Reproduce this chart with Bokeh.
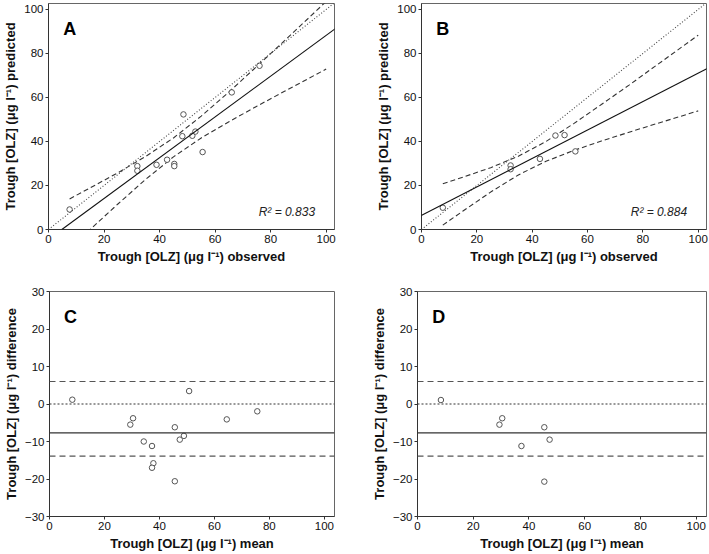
from bokeh.plotting import figure
from bokeh.layouts import column, row
from bokeh.models import Range1d, Slope, Span, Label, FixedTicker
from bokeh.embed import file_html
from bokeh.resources import INLINE

# ---------------- data ----------------
# Panel A: observed vs predicted (all subjects)
obs_a = [7.6, 32.0, 32.0, 38.9, 42.7, 45.3, 45.3, 48.2, 48.6, 51.8, 52.9, 55.5, 66.0, 76.0]
pred_a = [9.1, 28.8, 26.7, 29.4, 31.7, 29.8, 28.8, 42.4, 52.3, 42.6, 44.5, 35.2, 62.3, 74.4]
fit_a = (0.927, -4.45)          # slope, intercept of regression line
r2_a = "0.833"
ci_x_a = [7.6, 15, 25, 35, 45, 55, 65, 75, 85, 100]
ci_up_a = [13.9, 18.9, 25.8, 33.2, 41.6, 51.5, 62.5, 74.1, 85.8, 103.6]
ci_lo_a = [-8.7, 0.0, 11.6, 22.8, 33.0, 41.6, 49.0, 56.0, 62.8, 72.9]

# Panel B: observed vs predicted (subset)
obs_b = [7.7, 32.2, 32.2, 42.8, 48.4, 51.7, 55.6]
pred_b = [9.9, 29.1, 27.4, 32.1, 42.7, 42.9, 35.5]
fit_b = (0.647, 6.4)
r2_b = "0.884"
ci_x_b = [7.7, 15, 25, 35, 45, 55, 65, 75, 85, 100]
ci_up_b = [20.8, 23.8, 28.1, 33.3, 40.0, 48.1, 56.8, 65.6, 74.7, 88.3]
ci_lo_b = [2.0, 8.4, 17.0, 24.8, 31.0, 35.9, 40.2, 44.2, 48.1, 53.9]

# Panel C: Bland-Altman (all subjects)
mean_c = [8.3, 29.4, 30.4, 34.3, 37.3, 37.8, 37.3, 45.6, 45.6, 47.4, 48.9, 50.8, 64.5, 75.6]
diff_c = [1.15, -5.5, -3.8, -10.0, -11.2, -15.8, -17.0, -6.2, -20.6, -9.5, -8.5, 3.45, -4.1, -1.95]
bias_c, upper_c, lower_c = -7.7, 6.0, -13.9

# Panel D: Bland-Altman (subset)
mean_d = [8.4, 29.4, 30.4, 37.3, 45.5, 45.5, 47.4]
diff_d = [1.06, -5.5, -3.8, -11.2, -6.2, -20.7, -9.5]
bias_d, upper_d, lower_d = -7.7, 6.0, -13.9

x_ticks = [0, 20, 40, 60, 80, 100]
y_ticks_ab = [0, 20, 40, 60, 80, 100]
y_ticks_cd = [-30, -20, -10, 0, 10, 20, 30]

xlab_ab = "Trough [OLZ] (\u03bcg l\u207b\u00b9) observed"
ylab_ab = "Trough [OLZ] (\u03bcg l\u207b\u00b9) predicted"
xlab_cd = "Trough [OLZ] (\u03bcg l\u207b\u00b9) mean"
ylab_cd = "Trough [OLZ] (\u03bcg l\u207b\u00b9) difference"

FONT = "Liberation Sans"
PT_COLOR = "#555555"


def base_fig(width, height, xr, yr, xt, yt, xlab, ylab, bl, br, bt, bb):
    p = figure(width=width, height=height, x_range=Range1d(*xr), y_range=Range1d(*yr),
               output_backend="svg", toolbar_location=None)
    p.min_border_left = bl
    p.min_border_right = br
    p.min_border_top = bt
    p.min_border_bottom = bb
    p.grid.visible = False
    p.outline_line_color = "#666666"
    p.outline_line_width = 1
    p.background_fill_color = "white"
    p.border_fill_color = "white"
    p.xaxis.ticker = FixedTicker(ticks=xt)
    p.yaxis.ticker = FixedTicker(ticks=yt)
    for ax in (p.xaxis[0], p.yaxis[0]):
        ax.axis_line_color = "#333333"
        ax.major_tick_line_color = "#333333"
        ax.major_tick_out = 3
        ax.major_tick_in = 0
        ax.minor_tick_line_color = None
        ax.major_label_text_font = FONT
        ax.major_label_text_font_size = "11.5px"
        ax.major_label_text_color = "#111111"
        ax.major_label_standoff = 2
        ax.axis_label_text_font = FONT
        ax.axis_label_text_font_size = "13px"
        ax.axis_label_text_font_style = "bold"
        ax.axis_label_text_color = "#111111"
        ax.axis_label_standoff = 3
    p.xaxis.axis_label = xlab
    p.yaxis.axis_label = ylab
    return p


def letter(p, txt, x, y):
    p.add_layout(Label(x=x, y=y, text=txt, text_font=FONT, text_font_size="18px",
                       text_font_style="bold", text_color="black",
                       text_baseline="alphabetic", text_align="left"))


def scatter_panel(width, height, obs, pred, fit, cix, ciu, cil, r2, let, bl, br):
    p = base_fig(width, height, (0, 103), (0, 102.7), x_ticks, y_ticks_ab,
                 xlab_ab, ylab_ab, bl, br, 3, height - 229)
    p.add_layout(Slope(gradient=1, y_intercept=0, line_color="#444444",
                       line_width=1.1, line_dash="1 2"))
    p.line(cix, ciu, line_color="#333333", line_width=1.1, line_dash="5 3")
    p.line(cix, cil, line_color="#333333", line_width=1.1, line_dash="5 3")
    p.add_layout(Slope(gradient=fit[0], y_intercept=fit[1], line_color="#111111",
                       line_width=1.1))
    p.scatter(obs, pred, marker="circle", size=5.5, fill_color="white",
              line_color=PT_COLOR, line_width=1)
    letter(p, let, 5.3, 91)
    p.add_layout(Label(x=96, y=7.9, text="R\u00b2 = " + r2, text_font=FONT,
                       text_font_size="12px", text_font_style="italic",
                       text_color="#222222", text_align="right",
                       text_baseline="alphabetic"))
    return p


def ba_panel(width, m, d, bias, up, lo, let, bl, br):
    p = base_fig(width, 270, (0, 103.7), (-30, 30), x_ticks, y_ticks_cd,
                 xlab_cd, ylab_cd, bl, br, 8, 36)
    p.add_layout(Span(location=up, dimension="width", line_color="#555555",
                      line_width=1.2, line_dash="6 4"))
    p.add_layout(Span(location=lo, dimension="width", line_color="#555555",
                      line_width=1.2, line_dash="6 4"))
    p.add_layout(Span(location=0, dimension="width", line_color="#333333",
                      line_width=1.2, line_dash="2 2"))
    p.add_layout(Span(location=bias, dimension="width", line_color="#333333",
                      line_width=1.1))
    p.scatter(m, d, marker="circle", size=5.5, fill_color="white",
              line_color=PT_COLOR, line_width=1)
    letter(p, let, 5.3, 23.3)
    return p


pa = scatter_panel(360, 283, obs_a, pred_a, fit_a, ci_x_a, ci_up_a, ci_lo_a, r2_a, "A", 48, 26)
pb = scatter_panel(349, 283, obs_b, pred_b, fit_b, ci_x_b, ci_up_b, ci_lo_b, r2_b, "B", 61, 3)
pc = ba_panel(360, mean_c, diff_c, bias_c, upper_c, lower_c, "C", 45, 26)
pd = ba_panel(349, mean_d, diff_d, bias_d, upper_d, lower_d, "D", 57, 3)

layout = column(row(pa, pb, spacing=0), row(pc, pd, spacing=0), spacing=0)
open("out.html", "w").write(file_html(layout, INLINE))
